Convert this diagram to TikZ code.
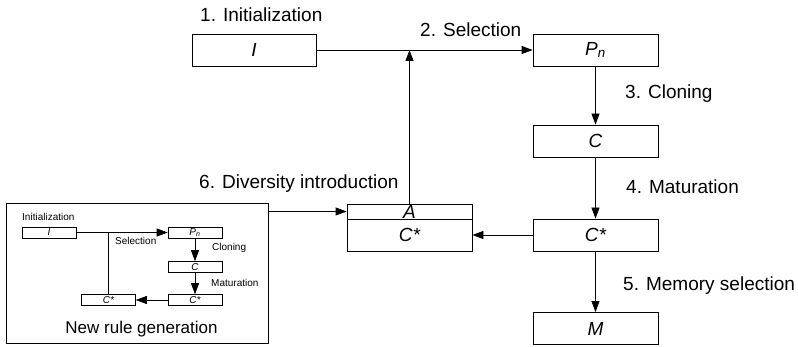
\documentclass[tikz,border=0pt]{standalone}
\usepackage{fontspec}
\setmainfont{Liberation Sans}
\usetikzlibrary{arrows.meta}

\tikzset{
  blk/.style={draw, line width=0.8pt, inner sep=0pt, minimum width=125pt,
    minimum height=32pt, font=\fontsize{19}{22}\selectfont\itshape},
  sblk/.style={draw, line width=0.6pt, inner sep=0pt, minimum width=54pt,
    minimum height=11pt, font=\fontsize{10}{11}\selectfont\itshape},
  lbl/.style={anchor=base west, inner sep=0pt, font=\fontsize{19}{22}\selectfont},
  slbl/.style={anchor=base west, inner sep=0pt, font=\fontsize{10}{11}\selectfont},
  flow/.style={line width=0.8pt, -{Triangle[length=11pt,width=8pt]}},
  sflow/.style={line width=0.6pt, -{Triangle[length=11pt,width=8pt]}},
}

\begin{document}
\begin{tikzpicture}[x=1pt,y=-1pt]
\useasboundingbox (0,0) rectangle (798,347);

% main cycle
\node[blk, minimum width=124pt] (init) at (254,50) {I};
\node[blk] (pop) at (595.5,50) {P\textsubscript{n}};
\node[blk] (clo) at (595.5,141) {C};
\node[blk] (mat) at (595.5,235) {C*};
\node[blk] (mem) at (595.5,328.5) {M};
\node[blk, minimum height=15pt] (anti) at (409.5,211.5) {A};
\node[blk] (div) at (409.5,235) {C*};

\node[lbl] (l1) at (200,22) {1. Initialization};
\node[lbl] (l2) at (420,37) {2. Selection};
\node[lbl] (l3) at (625,99) {3. Cloning};
\node[lbl] (l4) at (626,194) {4. Maturation};
\node[lbl] (l5) at (623,291) {5. Memory selection};
\node[lbl] (l6) at (199,189) {6. Diversity introduction};

\coordinate (join) at (anti.north |- init.east);
\draw[flow] (init) -- (pop);
\draw[flow] (anti) -- (join);
\draw[flow] (pop) -- (clo);
\draw[flow] (clo) -- (mat);
\draw[flow] (mat) -- (mem);
\draw[flow] (mat) -- (div);

% rule generation inset
\node[draw, line width=0.8pt, inner sep=0pt, minimum width=262pt,
  minimum height=140pt] (gen) at (137,273) {};
\coordinate (genout) at (gen.east |- anti.west);
\draw[flow] (genout) -- (anti);

\node[sblk] (sinit) at (49,232.5) {I};
\node[sblk] (spop) at (195,232.5) {P\textsubscript{n}};
\node[sblk] (sclo) at (195,267) {C};
\node[sblk] (smat) at (195,300) {C*};
\node[sblk] (sdiv) at (108.5,300) {C*};

\node[slbl] (s1) at (22,221) {Initialization};
\node[slbl] (s2) at (115,245) {Selection};
\node[slbl] (s3) at (212,251) {Cloning};
\node[slbl] (s4) at (211,287) {Maturation};
\node[anchor=base, inner sep=0pt, font=\fontsize{17}{20}\selectfont]
  (cap) at (141.5,334) {New rule generation};

\coordinate (sjoin) at (sdiv.north |- sinit.east);
\draw[sflow] (sinit) -- (spop);
\draw[sflow] (spop) -- (sclo);
\draw[sflow] (sclo) -- (smat);
\draw[sflow] (smat) -- (sdiv);
\draw[line width=0.6pt] (sdiv) -- (sjoin);
\end{tikzpicture}
\end{document}
